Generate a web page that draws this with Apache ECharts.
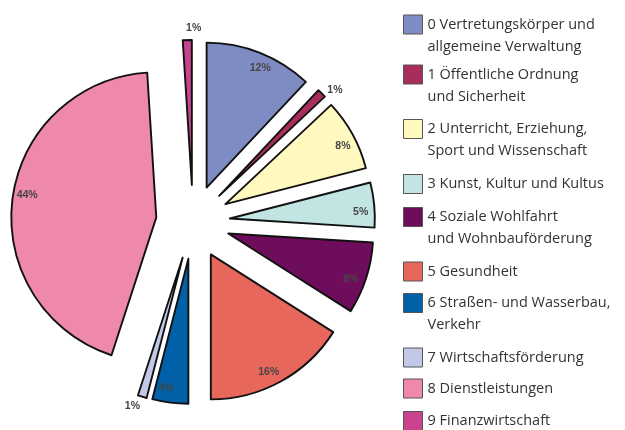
<!DOCTYPE html>
<html>
<head>
<meta charset="utf-8">
<script src="https://cdn.jsdelivr.net/npm/echarts@6/dist/echarts.min.js"></script>
<style>html,body{margin:0;padding:0;background:#fff}#c{width:625px;height:430px}</style>
</head>
<body>
<div id="c"></div>
<script>
var categories = [
  '0 Vertretungskörper und\nallgemeine Verwaltung',
  '1 Öffentliche Ordnung\nund Sicherheit',
  '2 Unterricht, Erziehung,\nSport und Wissenschaft',
  '3 Kunst, Kultur und Kultus',
  '4 Soziale Wohlfahrt\nund Wohnbauförderung',
  '5 Gesundheit',
  '6 Straßen- und Wasserbau,\nVerkehr',
  '7 Wirtschaftsförderung',
  '8 Dienstleistungen',
  '9 Finanzwirtschaft'
];
var values = [12, 1, 8, 5, 8, 16, 4, 1, 44, 1];
var colors = ['#7f8cc4', '#a92d5c', '#fff8bf', '#c2e5e3', '#6f0d5d', '#e8675c', '#0061a9', '#c2c8e8', '#ee89aa', '#c9438f'];

var legendCenters = [24.5, 74.5, 129, 184, 217, 271.5, 303, 357.5, 388.5, 421];
var LH = 22;
var CENTER = [193, 222];
var R = 145;
var OFF = 37;

function mkData() {
  return categories.map(function (n, i) {
    return { name: n, value: values[i], selected: true };
  });
}

var legends = categories.map(function (n, i) {
  var twoLine = n.indexOf('\n') >= 0;
  var h = twoLine ? 3 * LH : LH;
  return {
    data: [n],
    orient: 'vertical',
    left: 403,
    top: legendCenters[i] - h / 2,
    padding: 0,
    itemWidth: 19,
    itemHeight: 19,
    icon: 'rect',
    selectedMode: false,
    formatter: function (name) {
      return name.indexOf('\n') >= 0 ? '\n' + name : name;
    },
    itemStyle: { borderColor: '#555', borderWidth: 1 },
    textStyle: {
      fontFamily: 'Open Sans',
      fontSize: 14.5,
      color: '#333',
      lineHeight: LH,
      backgroundColor: 'rgba(0,0,0,0)'
    }
  };
});

var labelFont = { fontFamily: 'Liberation Sans', fontSize: 10.5, fontWeight: 'bold', color: '#454545' };

var chart = echarts.init(document.getElementById('c'), null, { renderer: 'canvas' });
chart.setOption({
  animation: false,
  color: colors,
  legend: legends,
  series: [
    {
      type: 'pie',
      center: CENTER,
      radius: R,
      startAngle: 90,
      clockwise: true,
      selectedMode: 'multiple',
      selectedOffset: OFF,
      avoidLabelOverlap: false,
      label: { show: false },
      labelLine: { show: false },
      emphasis: { disabled: true },
      itemStyle: { borderColor: '#111', borderWidth: 1.9 },
      data: mkData()
    },
    {
      type: 'pie',
      center: CENTER,
      radius: [111, R],
      startAngle: 88,
      selectedMode: 'multiple',
      selectedOffset: OFF,
      silent: true,
      avoidLabelOverlap: false,
      legendHoverLink: false,
      itemStyle: { color: 'rgba(0,0,0,0)', borderWidth: 0 },
      emphasis: { disabled: true },
      labelLine: { show: false },
      label: Object.assign({
        show: true, position: 'inside',
        formatter: function (p) { return p.value > 1 ? p.value + '%' : ''; }
      }, labelFont),
      data: mkData()
    },
    {
      type: 'pie',
      center: CENTER,
      radius: [146, 162],
      startAngle: 88,
      selectedMode: 'multiple',
      selectedOffset: OFF,
      silent: true,
      avoidLabelOverlap: false,
      legendHoverLink: false,
      itemStyle: { color: 'rgba(0,0,0,0)', borderWidth: 0 },
      emphasis: { disabled: true },
      labelLine: { show: false },
      label: Object.assign({
        show: true, position: 'inside',
        formatter: function (p) { return p.value <= 1 ? p.value + '%' : ''; }
      }, labelFont),
      data: mkData()
    }
  ]
});
</script>
</body>
</html>
